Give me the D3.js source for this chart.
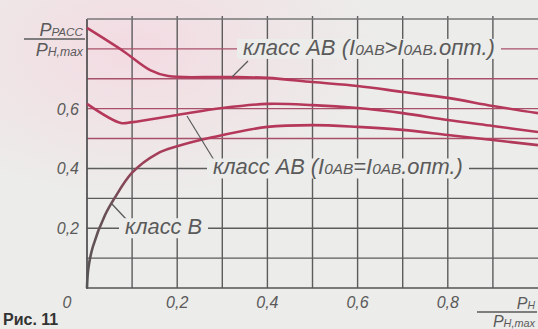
<!DOCTYPE html>
<html>
<head>
<meta charset="utf-8">
<script src="https://cdn.jsdelivr.net/npm/d3@7"></script>
<style>
  body { margin: 0; background: #ececea; }
  svg { display: block; }
</style>
</head>
<body>
<svg id="chart" width="538" height="329"></svg>
<script>
// values (x = Pн/Pн.max, y = Pрасс/Pн.max)
const xsUpper = [0, 0.08, 0.14, 0.18, 0.3, 0.4, 0.5, 0.6, 0.7, 0.8, 0.9, 1.0];
const ysUpper = [0.870, 0.793, 0.729, 0.709, 0.706, 0.703, 0.689, 0.676, 0.656, 0.636, 0.609, 0.585];

const xsOpt = [0, 0.075, 0.1, 0.2, 0.3, 0.4, 0.5, 0.6, 0.7, 0.8, 0.9, 1.0];
const ysOpt = [0.616, 0.552, 0.555, 0.579, 0.602, 0.616, 0.612, 0.602, 0.585, 0.562, 0.542, 0.522];

const xsB = [0, 0.003, 0.013, 0.04, 0.06, 0.1, 0.155, 0.2, 0.28, 0.4, 0.5, 0.6, 0.7, 0.8, 0.9, 1.0];
const ysB = [0, 0.066, 0.138, 0.244, 0.298, 0.386, 0.449, 0.474, 0.505, 0.539, 0.545, 0.539, 0.529, 0.512, 0.495, 0.478];

const xTicks = [0.2, 0.4, 0.6, 0.8];
const xTickLabels = ["0,2", "0,4", "0,6", "0,8"];
const yTicks = [0.2, 0.4, 0.6];
const yTickLabels = ["0,2", "0,4", "0,6"];
const gridX = [0.1, 0.2, 0.3, 0.4, 0.5, 0.6, 0.7, 0.8, 0.9];
const gridY = [0.1, 0.2, 0.3, 0.4, 0.5, 0.6, 0.7, 0.8];

const svg = d3.select("#chart");
const x = d3.scaleLinear().domain([0, 1]).range([87, 538]);
const y = d3.scaleLinear().domain([0, 0.9]).range([288, 19]);

const bg = "#ececea";
const red = "#b5385a";
const ink = "#5a5a5a";
const font = "'Liberation Sans', Arial, sans-serif";

// faint pink tint from the print, top left
const defs = svg.append("defs");
let rg = defs.append("radialGradient").attr("id", "pink")
    .attr("cx", 0.25).attr("cy", 0.15).attr("r", 0.45);
rg.append("stop").attr("offset", "0%").attr("stop-color", "#f3dbe2");
rg.append("stop").attr("offset", "100%").attr("stop-color", bg);
svg.append("rect").attr("width", 538).attr("height", 329).attr("fill", "url(#pink)");

// class B curve goes grey at the bottom, red higher up
let lg = defs.append("linearGradient").attr("id", "bgrad")
    .attr("gradientUnits", "userSpaceOnUse")
    .attr("x1", 0).attr("y1", y(0)).attr("x2", 0).attr("y2", y(0.5));
lg.append("stop").attr("offset", "0%").attr("stop-color", "#555");
lg.append("stop").attr("offset", "55%").attr("stop-color", "#6b5056");
lg.append("stop").attr("offset", "100%").attr("stop-color", red);

// grid
svg.append("g").selectAll("line").data(gridX).join("line")
    .attr("x1", d => x(d)).attr("x2", d => x(d))
    .attr("y1", y(0.9) - 3).attr("y2", y(0))
    .attr("stroke", "#5c5c5c").attr("stroke-width", 1.4);

svg.append("g").selectAll("line").data(gridY).join("line")
    .attr("x1", x(0)).attr("x2", x(1))
    .attr("y1", d => y(d)).attr("y2", d => y(d))
    .attr("stroke", d => d >= 0.5 ? "#a8506a" : "#5c5c5c")
    .attr("stroke-width", 1.4);

// frame: left, top, bottom
svg.append("line").attr("x1", x(0)).attr("x2", x(0)).attr("y1", y(0.9)).attr("y2", y(0) + 1)
    .attr("stroke", "#555").attr("stroke-width", 1.8);
svg.append("line").attr("x1", x(0)).attr("x2", x(1)).attr("y1", y(0.9)).attr("y2", y(0.9))
    .attr("stroke", "#777").attr("stroke-width", 1.4);
svg.append("line").attr("x1", x(0)).attr("x2", x(1)).attr("y1", y(0)).attr("y2", y(0))
    .attr("stroke", "#555").attr("stroke-width", 1.6);

// curves
const line = d3.line().x(d => x(d[0])).y(d => y(d[1])).curve(d3.curveCatmullRom.alpha(0.5));
const curves = [
    { xs: xsUpper, ys: ysUpper, color: red },
    { xs: xsOpt, ys: ysOpt, color: red },
    { xs: xsB, ys: ysB, color: "url(#bgrad)" }
];
curves.forEach(c => {
    svg.append("path")
        .datum(c.xs.map((v, i) => [v, c.ys[i]]))
        .attr("d", line)
        .attr("fill", "none")
        .attr("stroke", c.color)
        .attr("stroke-width", 2.6);
});

// callout labels sitting on gridlines, with leader lines to the curves
function callout(text, sub1, sub2, tx, gy, width, leader) {
    svg.append("line")
        .attr("x1", leader[0]).attr("y1", leader[1])
        .attr("x2", leader[2]).attr("y2", leader[3])
        .attr("stroke", ink).attr("stroke-width", 1.2);
    let box = svg.append("rect")
        .attr("y", y(gy) - 10).attr("height", 20)
        .attr("fill", bg);
    let t = svg.append("text")
        .attr("x", tx).attr("y", y(gy) + 6)
        .attr("font-family", font).attr("font-style", "italic")
        .attr("font-size", 17).attr("fill", ink);
    t.append("tspan").text(text);
    if (sub1) {
        t.append("tspan").text("I");
        t.append("tspan").attr("font-size", 12).text("0AB");
        t.append("tspan").text(sub1);
        t.append("tspan").text("I");
        t.append("tspan").attr("font-size", 12).text("0AB");
        t.append("tspan").text(sub2);
    }
    // stretch to the width seen in the picture
    let w = t.node().getComputedTextLength();
    t.attr("font-size", 17 * width / w);
    t.selectAll("tspan").filter(function () { return this.getAttribute("font-size"); })
        .attr("font-size", 12 * width / w);
    box.attr("x", tx - 6).attr("width", width + 12);
    return t;
}

callout("класс AB (", ">", ".опт.)", 243, 0.8, 252, [248, 61, 232, 77]);
callout("класс AB (", "=", ".опт.)", 213, 0.4, 250, [214, 160, 187, 116]);
callout("класс B", null, null, 125, 0.2, 77, [126, 219, 111, 203]);

// tick labels
svg.append("g").selectAll("text").data(yTicks).join("text")
    .attr("x", 79).attr("y", d => y(d) + 6)
    .attr("text-anchor", "end")
    .attr("font-family", font).attr("font-style", "italic")
    .attr("font-size", 16).attr("fill", ink)
    .text((d, i) => yTickLabels[i]);

svg.append("g").selectAll("text").data(xTicks).join("text")
    .attr("x", d => x(d)).attr("y", 308)
    .attr("text-anchor", "middle")
    .attr("font-family", font).attr("font-style", "italic")
    .attr("font-size", 16).attr("fill", ink)
    .text((d, i) => xTickLabels[i]);

svg.append("text").attr("x", 67).attr("y", 308)
    .attr("text-anchor", "middle")
    .attr("font-family", font).attr("font-style", "italic")
    .attr("font-size", 16).attr("fill", ink).text("0");

// axis titles as fractions
function fraction(xl, xr, yLine, top, topSub, bottomSub, size) {
    let num = svg.append("text").attr("x", xr - 2).attr("y", yLine - 3)
        .attr("text-anchor", "end")
        .attr("font-family", font).attr("font-style", "italic")
        .attr("font-size", size).attr("fill", ink);
    num.append("tspan").text(top);
    num.append("tspan").attr("font-size", size * 0.65).text(topSub);
    svg.append("line").attr("x1", xl).attr("x2", xr)
        .attr("y1", yLine).attr("y2", yLine)
        .attr("stroke", ink).attr("stroke-width", 1.3);
    let den = svg.append("text").attr("x", xr - 2).attr("y", yLine + size - 1)
        .attr("text-anchor", "end")
        .attr("font-family", font).attr("font-style", "italic")
        .attr("font-size", size).attr("fill", ink);
    den.append("tspan").text("P");
    den.append("tspan").attr("font-size", size * 0.68).text(bottomSub);
}

fraction(24, 85, 39, "P", "PACC", "H,max", 18);
fraction(477, 537, 312, "P", "H", "H,max", 16);

// figure caption at the bottom edge
svg.append("text").attr("x", 3).attr("y", 325)
    .attr("font-family", font).attr("font-weight", "bold")
    .attr("font-size", 16).attr("fill", "#333").text("Рис. 11");
</script>
</body>
</html>
